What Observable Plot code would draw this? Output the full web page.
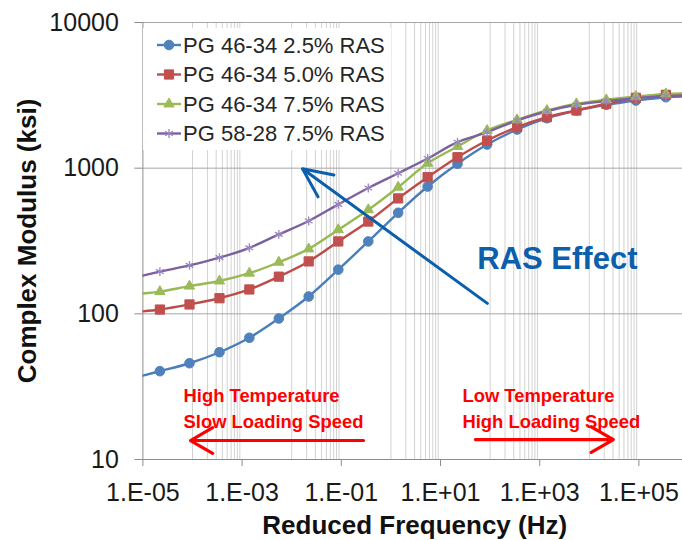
<!DOCTYPE html>
<html><head><meta charset="utf-8">
<script src="https://cdn.jsdelivr.net/npm/d3@7"></script>
<script src="https://cdn.jsdelivr.net/npm/@observablehq/plot@0.6"></script>
<style>
body{margin:0;background:#fff;}
#wrap{position:relative;width:682px;height:540px;overflow:hidden;font-family:"Liberation Sans",Arial,sans-serif;background:#fff;}
#legend{position:absolute;left:143px;top:28px;}
</style></head><body><div id="wrap"></div>
<script>
// ---- data ----
const freq = [2.2e-5, 8.7e-5, 3.5e-4, 1.4e-3, 5.5e-3, 2.2e-2, 8.7e-2, 0.35, 1.4, 5.5, 22, 87, 350, 1400, 5500, 22000, 87000, 350000];
const seriesNames = ["PG 46-34 2.5% RAS", "PG 46-34 5.0% RAS", "PG 46-34 7.5% RAS", "PG 58-28 7.5% RAS"];
const pg4634_25 = [40.4, 45.8, 54.5, 68.5, 92.9, 131.5, 201, 314, 494, 748, 1072, 1453, 1842, 2203, 2489, 2723, 2914, 3070];
const pg4634_50 = [107, 116, 128, 147, 180, 229, 314, 430, 620, 867, 1189, 1549, 1911, 2239, 2489, 2767, 3041, 3190];
const pg4634_75 = [142, 155, 168, 190, 226, 279, 378, 518, 740, 1080, 1409, 1814, 2148, 2489, 2767, 2945, 3105, 3237];
const pg5828_75 = [195, 215, 243, 284, 351, 434, 564, 731, 923, 1165, 1507, 1766, 2125, 2460, 2723, 2884, 3022, 3120];
// curve values where the lines meet the plot edges
const edgeFreq = [1e-5, 7.57e5];
const leftEdge = [37.7, 104, 138, 183];
const rightEdge = [3100, 3210, 3260, 3140];

const xTicks = [1e-5, 1e-3, 1e-1, 1e1, 1e3, 1e5];
const yTicks = [10, 100, 1000, 10000];
const gridDecades = [1e-4, 1e-2, 1, 1e2, 1e4];
const gridMultipliers = [1, 2, 3, 4, 5, 6, 7, 8, 9];

const colors = ["#4a7ebb", "#be4b48", "#98b954", "#7d60a0"];
const markFill = ["#4f81bd", "#c0504d", "#9bbb59", "#8064a2"];
const symbols = ["circle", "square", "triangle", "asterisk"];
const symR = [4.8, 5.2, 3.8, 4.2];

// annotations
const rasArrow = [{x1: 88, y1: 118, x2: 0.0165, y2: 990}];
const rasLabel = [{x: 2275, y: 236, text: "RAS Effect"}];
const leftNotes = [{x: 6.6e-5, y: 27.1, text: "High Temperature"}, {x: 6.6e-5, y: 17.95, text: "Slow Loading Speed"}];
const rightNotes = [{x: 27.7, y: 27.1, text: "Low Temperature"}, {x: 27.7, y: 17.95, text: "High Loading Speed"}];
const redArrows = [{x1: 0.28, y1: 13.5, x2: 9.1e-5, y2: 13.5}, {x1: 50.7, y1: 13.7, x2: 30600, y2: 13.7}];

// ---- build tables ----
const allSeries = [pg4634_25, pg4634_50, pg4634_75, pg5828_75];
const points = [];
allSeries.forEach((vals, s) => vals.forEach((v, i) => points.push({series: seriesNames[s], s, f: freq[i], v})));
const linePts = [];
allSeries.forEach((vals, s) => {
  linePts.push({series: seriesNames[s], f: edgeFreq[0], v: leftEdge[s]});
  vals.forEach((v, i) => linePts.push({series: seriesNames[s], f: freq[i], v}));
  linePts.push({series: seriesNames[s], f: edgeFreq[1], v: rightEdge[s]});
});
const minorGrid = [];
gridDecades.forEach(d => gridMultipliers.forEach(m => minorGrid.push(d * m)));

const fmtX = d => {
  const e = Math.round(Math.log10(d));
  return "1.E" + (e < 0 ? "-" : "+") + String(Math.abs(e)).padStart(2, "0");
};

const font = "Liberation Sans, Arial, sans-serif";

const chart = Plot.plot({
  width: 682, height: 540,
  marginLeft: 142.4, marginRight: 0, marginTop: 22, marginBottom: 81,
  style: {fontFamily: font, background: "white", overflow: "visible"},
  x: {type: "log", domain: [1e-5, 7.57e5], axis: null},
  y: {type: "log", domain: [10, 10000], axis: null},
  color: {domain: seriesNames, range: colors},
  marks: [
    Plot.ruleX(minorGrid, {stroke: "#d2d2d2", strokeWidth: 1}),
    Plot.ruleY([100, 1000, 10000], {stroke: "#a6a6a6", strokeWidth: 1}),
    Plot.ruleX([1e-5], {stroke: "#8c8c8c", strokeWidth: 1}),
    Plot.ruleY([10], {stroke: "#8c8c8c", strokeWidth: 1}),
    Plot.axisX(xTicks, {tickFormat: fmtX, tickSize: 7, tickPadding: 17, fontSize: 25, stroke: "#8c8c8c", fill: "#1a1a1a", label: null}),
    Plot.axisY(yTicks, {tickFormat: d => String(d), tickSize: 8, tickPadding: 16, fontSize: 25, stroke: "#8c8c8c", fill: "#1a1a1a", label: null}),
    Plot.line(linePts, {x: "f", y: "v", z: "series", stroke: "series", strokeWidth: 2.4, curve: "catmull-rom", clip: true}),
    ...[0, 1, 2, 3].map(s => Plot.dot(points.filter(p => p.s === s), {
      x: "f", y: "v", symbol: () => symbols[s], r: symR[s],
      fill: s === 3 ? "none" : markFill[s], stroke: s === 3 ? "#9a86c0" : markFill[s], strokeWidth: s === 3 ? 1.3 : 1
    })),
    Plot.arrow(rasArrow, {x1: "x1", y1: "y1", x2: "x2", y2: "y2", stroke: "#0b5fac", strokeWidth: 3, headLength: 16, headAngle: 50, insetEnd: 0, insetStart: 0}),
    Plot.text(rasLabel, {x: "x", y: "y", text: "text", fill: "#0b5fac", fontSize: 31, fontWeight: "bold", textAnchor: "middle"}),
    Plot.text(leftNotes, {x: "x", y: "y", text: "text", fill: "#ff0000", fontSize: 18.4, fontWeight: "bold", textAnchor: "start"}),
    Plot.text(rightNotes, {x: "x", y: "y", text: "text", fill: "#ff0000", fontSize: 18.4, fontWeight: "bold", textAnchor: "start"}),
    Plot.arrow(redArrows, {x1: "x1", y1: "y1", x2: "x2", y2: "y2", stroke: "#ff0000", strokeWidth: 3.2, headLength: 12, headAngle: 60, insetEnd: 0, insetStart: 0}),
    Plot.text(["Reduced Frequency (Hz)"], {frameAnchor: "bottom", dx: 2, dy: 74, lineAnchor: "bottom", textAnchor: "middle", text: d => d, fontSize: 26, fontWeight: "bold", fill: "#111"}),
    Plot.text(["Complex Modulus (ksi)"], {frameAnchor: "left", dx: -115, rotate: -90, textAnchor: "middle", lineAnchor: "middle", text: d => d, fontSize: 26, fontWeight: "bold", fill: "#111"})
  ]
});

const wrap = document.getElementById("wrap");
wrap.appendChild(chart);

// ---- legend ----
const lg = d3.select(wrap).append("svg").attr("id", "legend")
  .attr("width", 248).attr("height", 122).style("background", "#fff");
const rowY = [17, 46.5, 76, 105.5];
seriesNames.forEach((name, s) => {
  const g = lg.append("g").attr("transform", `translate(0,${rowY[s]})`);
  g.append("line").attr("x1", 14).attr("x2", 38).attr("y1", 0).attr("y2", 0)
    .attr("stroke", colors[s]).attr("stroke-width", 2.4);
  const symType = {circle: d3.symbolCircle, square: d3.symbolSquare, triangle: d3.symbolTriangle, asterisk: d3.symbolAsterisk}[symbols[s]];
  g.append("path").attr("transform", "translate(26,0)")
    .attr("d", d3.symbol(symType, Math.PI * symR[s] * symR[s])())
    .attr("fill", s === 3 ? "none" : markFill[s])
    .attr("stroke", s === 3 ? "#9a86c0" : markFill[s]).attr("stroke-width", s === 3 ? 1.3 : 1);
  g.append("text").attr("x", 40).attr("y", 0).attr("dy", "0.35em")
    .attr("font-family", font).attr("font-size", 22).attr("fill", "#262626").text(name);
});
</script>
</body></html>
